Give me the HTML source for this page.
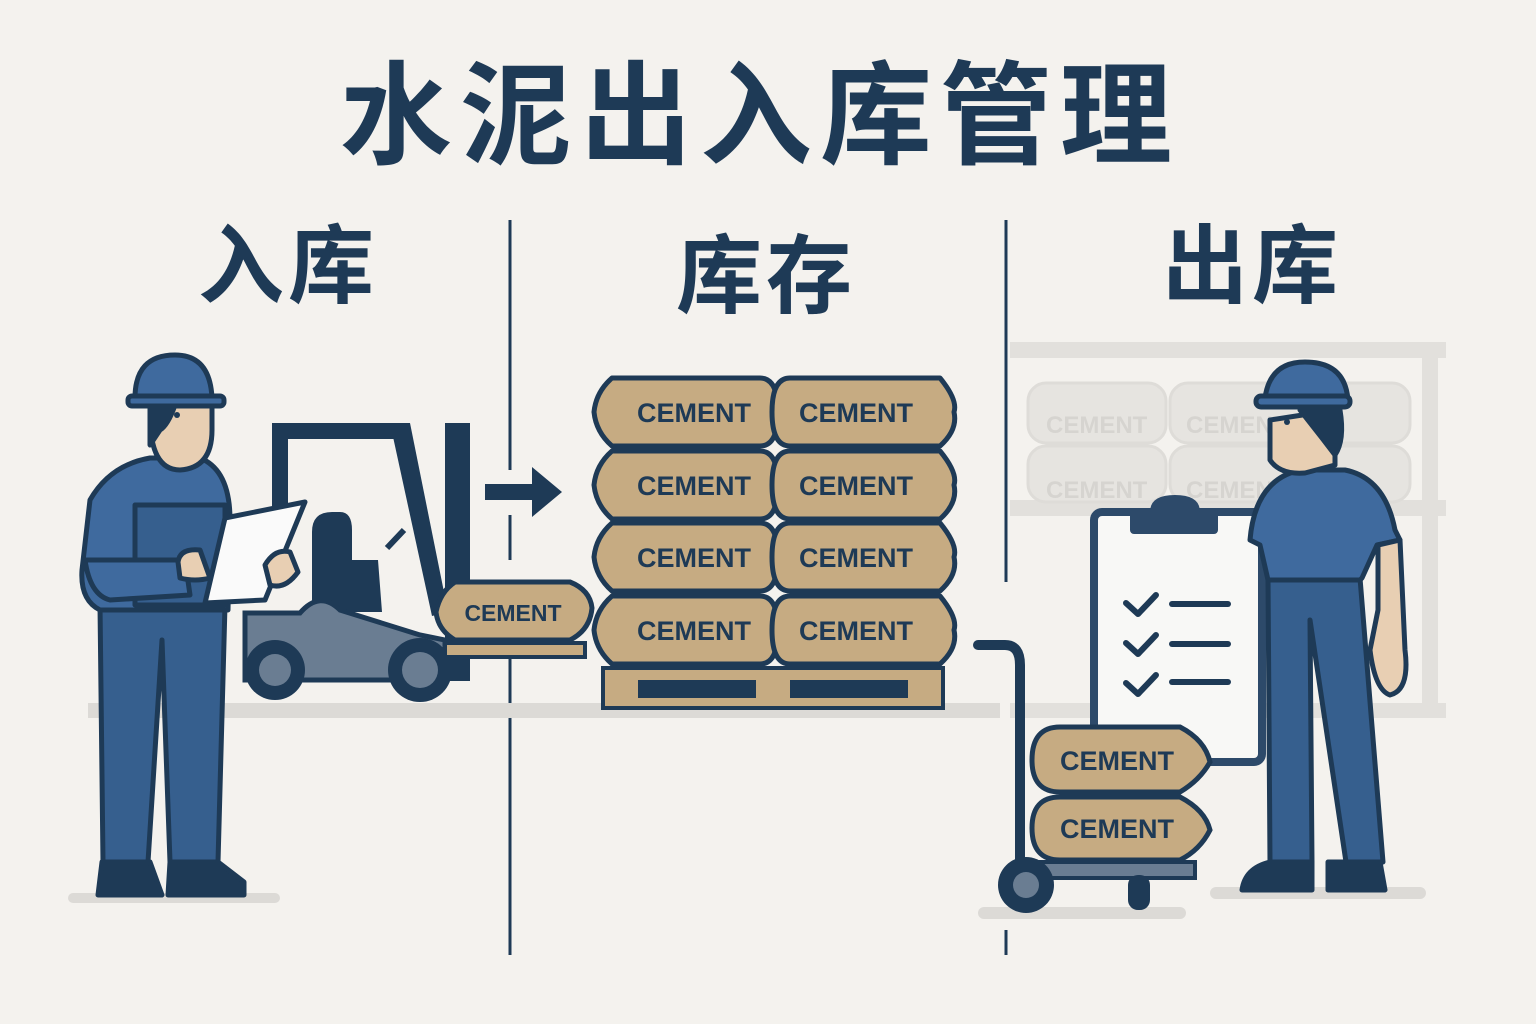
<!DOCTYPE html>
<html><head><meta charset="utf-8"><style>
html,body{margin:0;padding:0;background:#f4f2ee;}
svg{display:block}
text{font-family:"Liberation Sans","Noto Sans CJK SC",sans-serif;}
</style></head><body>
<svg width="1536" height="1024" viewBox="0 0 1536 1024" xmlns="http://www.w3.org/2000/svg">
<rect width="1536" height="1024" fill="#f4f2ee"/>
<text x="760" y="155" text-anchor="middle" font-size="112" font-weight="bold" fill="#1e3a56" font-family="Noto Sans CJK SC, sans-serif" letter-spacing="8">水泥出入库管理</text>
<text x="288" y="296" text-anchor="middle" font-size="86" font-weight="bold" fill="#1e3a56" font-family="Noto Sans CJK SC, sans-serif" letter-spacing="4">入库</text>
<text x="766" y="306" text-anchor="middle" font-size="86" font-weight="bold" fill="#1e3a56" font-family="Noto Sans CJK SC, sans-serif" letter-spacing="4">库存</text>
<text x="1252" y="296" text-anchor="middle" font-size="86" font-weight="bold" fill="#1e3a56" font-family="Noto Sans CJK SC, sans-serif" letter-spacing="4">出库</text>

<!-- dividers -->
<g stroke="#1e3a56" stroke-width="3">
<line x1="510" y1="220" x2="510" y2="470"/><line x1="510" y1="515" x2="510" y2="560"/><line x1="510" y1="650" x2="510" y2="955"/>
<line x1="1006" y1="220" x2="1006" y2="582"/><line x1="1006" y1="930" x2="1006" y2="955"/>
</g>

<!-- floors -->
<rect x="88" y="703" width="912" height="15" fill="#dcdad6"/>
<rect x="68" y="893" width="212" height="10" rx="5" fill="#dcdad6"/>
<rect x="978" y="907" width="208" height="12" rx="6" fill="#dcdad6"/>
<rect x="1210" y="887" width="216" height="12" rx="6" fill="#dcdad6"/>

<!-- shelf right -->
<g fill="#e2e0dc">
<rect x="1010" y="342" width="436" height="16"/>
<rect x="1010" y="500" width="436" height="16"/>
<rect x="1010" y="703" width="436" height="15"/>
<rect x="1422" y="350" width="16" height="360"/>
</g>
<g fill="#e6e4e0" stroke="#dedcd8" stroke-width="3">
<rect x="1028" y="383" width="138" height="60" rx="18"/><rect x="1170" y="383" width="240" height="60" rx="18"/>
<rect x="1028" y="446" width="138" height="56" rx="18"/><rect x="1170" y="446" width="240" height="56" rx="18"/>
</g>
<g font-size="24" font-weight="bold" fill="#d6d4d0"><text x="1046" y="433">CEMENT</text><text x="1046" y="498">CEMENT</text><text x="1186" y="433">CEMENT</text><text x="1186" y="498">CEMENT</text></g>

<!-- pallet -->
<rect x="603" y="668" width="340" height="40" fill="#c6ab82" stroke="#1e3a56" stroke-width="4"/>
<rect x="638" y="680" width="118" height="18" fill="#1e3a56"/><rect x="790" y="680" width="118" height="18" fill="#1e3a56"/>

<!-- bags -->
<g stroke="#1e3a56" stroke-width="5" fill="#c6ab82" stroke-linejoin="round">
<path d="M612 378 H760 Q778 378 778 412 Q778 446 760 446 H612 Q596 432 594 412 Q596 392 612 378Z"/>
<path d="M790 378 H940 Q958 400 954 412 Q958 430 940 446 H790 Q772 446 772 412 Q772 378 790 378Z"/>
<path d="M612 451 H760 Q778 451 778 485 Q778 519 760 519 H612 Q596 505 594 485 Q596 465 612 451Z"/>
<path d="M790 451 H940 Q958 473 954 485 Q958 503 940 519 H790 Q772 519 772 485 Q772 451 790 451Z"/>
<path d="M612 523 H760 Q778 523 778 557 Q778 591 760 591 H612 Q596 577 594 557 Q596 537 612 523Z"/>
<path d="M790 523 H940 Q958 545 954 557 Q958 575 940 591 H790 Q772 591 772 557 Q772 523 790 523Z"/>
<path d="M612 596 H760 Q778 596 778 630 Q778 664 760 664 H612 Q596 650 594 630 Q596 610 612 596Z"/>
<path d="M790 596 H940 Q958 618 954 630 Q958 648 940 664 H790 Q772 664 772 630 Q772 596 790 596Z"/>
</g>
<g font-size="27" font-weight="bold" fill="#1e3a56" text-anchor="middle">
<text x="694" y="422">CEMENT</text><text x="856" y="422">CEMENT</text>
<text x="694" y="495">CEMENT</text><text x="856" y="495">CEMENT</text>
<text x="694" y="567">CEMENT</text><text x="856" y="567">CEMENT</text>
<text x="694" y="640">CEMENT</text><text x="856" y="640">CEMENT</text>
</g>

<!-- arrow -->
<rect x="485" y="484" width="48" height="16" fill="#1e3a56"/>
<path d="M532 467 L562 492 L532 517Z" fill="#1e3a56"/>

<!-- forklift -->
<g fill="#1e3a56">
<rect x="272" y="423" width="132" height="16"/>
<path d="M390 423 L410 423 L448 612 L432 616Z"/>
<rect x="272" y="423" width="16" height="100"/>
<rect x="445" y="423" width="25" height="258"/>
<path d="M312 532 Q312 512 332 512 L340 512 Q352 512 352 530 L352 560 L378 560 L382 612 L312 612Z"/>
<line x1="387" y1="548" x2="404" y2="530" stroke="#1e3a56" stroke-width="6"/>
</g>
<path d="M245 613 L300 613 Q320 590 340 610 L420 635 L445 640 L445 680 L245 680Z" fill="#6a7d92" stroke="#1e3a56" stroke-width="5"/>
<circle cx="275" cy="670" r="30" fill="#1e3a56"/><circle cx="275" cy="670" r="16" fill="#6a7d92"/>
<circle cx="420" cy="670" r="32" fill="#1e3a56"/><circle cx="420" cy="670" r="18" fill="#6a7d92"/>
<rect x="445" y="643" width="140" height="14" fill="#c6ab82" stroke="#1e3a56" stroke-width="4"/>
<path d="M455 582 H570 Q590 590 592 608 Q590 630 570 640 H455 Q438 630 436 612 Q440 592 455 582Z" fill="#c6ab82" stroke="#1e3a56" stroke-width="5"/>
<text x="513" y="621" text-anchor="middle" font-size="23" font-weight="bold" fill="#1e3a56">CEMENT</text>

<!-- left worker -->
<g stroke="#1e3a56" stroke-width="5" stroke-linejoin="round">
<path d="M100 605 L225 605 L218 862 L170 862 L162 640 L148 862 L103 862Z" fill="#365f8e"/>
<path d="M98 895 L102 862 L150 862 L162 895Z M168 895 L170 862 L218 862 L244 882 L244 895Z" fill="#1e3a56"/>
<path d="M90 500 Q110 465 150 458 L200 458 Q230 470 230 520 L228 610 L100 610 Q80 600 82 570Z" fill="#3f6a9e"/>
<path d="M135 505 L225 505 L225 605 L135 605Z" fill="#365f8e"/>
<path d="M85 560 Q90 595 110 600 L190 595 L185 560Z" fill="#3f6a9e"/>
<path d="M150 415 Q150 470 180 470 Q212 468 212 430 L212 405 L150 405Z" fill="#e8cfb3"/>
<path d="M150 445 L150 410 L175 405 Q168 425 160 430 Z" fill="#1e3a56"/>
<path d="M135 398 Q135 355 175 355 Q210 355 212 398Z" fill="#3f6a9e"/>
<rect x="128" y="396" width="96" height="10" rx="4" fill="#3f6a9e"/>
<path d="M225 518 L305 502 L265 600 L205 603Z" fill="#fafafa"/>
<path d="M178 562 Q180 548 200 550 L210 578 Q195 582 180 578Z" fill="#e8cfb3"/>
<path d="M265 565 Q275 548 290 552 L298 572 Q285 590 270 585Z" fill="#e8cfb3"/>
</g>
<circle cx="177" cy="415" r="3" fill="#1e3a56"/>

<!-- hand truck -->
<g stroke="#1e3a56" fill="none" stroke-width="10" stroke-linecap="round">
<path d="M978 645 L1005 645 Q1020 645 1020 665 L1020 875"/>
</g>
<rect x="1020" y="862" width="175" height="16" fill="#6a7d92" stroke="#1e3a56" stroke-width="4"/>
<rect x="1128" y="875" width="22" height="35" rx="10" fill="#1e3a56"/>
<circle cx="1026" cy="885" r="28" fill="#1e3a56"/><circle cx="1026" cy="885" r="13" fill="#6a7d92"/>

<!-- clipboard -->
<rect x="1094" y="512" width="168" height="250" rx="8" fill="#f8f8f6" stroke="#2d4a6a" stroke-width="8"/>
<rect x="1130" y="510" width="88" height="24" rx="4" fill="#2d4a6a"/>
<path d="M1150 512 Q1150 495 1175 495 Q1200 495 1200 512Z" fill="#2d4a6a"/>
<g stroke="#1e3a56" stroke-width="6" fill="none" stroke-linecap="round" stroke-linejoin="round">
<path d="M1126 603 L1138 614 L1156 595"/><line x1="1172" y1="604" x2="1228" y2="604"/>
<path d="M1126 643 L1138 654 L1156 635"/><line x1="1172" y1="644" x2="1228" y2="644"/>
<path d="M1126 683 L1138 694 L1156 675"/><line x1="1172" y1="682" x2="1228" y2="682"/>
</g>

<!-- cart bags -->
<g stroke="#1e3a56" stroke-width="5" fill="#c6ab82">
<path d="M1060 727 H1180 Q1205 740 1210 762 Q1200 780 1180 792 H1060 Q1032 792 1032 760 Q1032 727 1060 727Z"/>
<path d="M1060 797 H1180 Q1205 810 1210 830 Q1200 850 1180 860 H1060 Q1032 860 1032 828 Q1032 797 1060 797Z"/>
</g>
<g font-size="27" font-weight="bold" fill="#1e3a56" text-anchor="middle"><text x="1117" y="770">CEMENT</text><text x="1117" y="838">CEMENT</text></g>

<!-- right worker -->
<g stroke="#1e3a56" stroke-width="5" stroke-linejoin="round">
<path d="M1268 578 L1360 578 L1383 862 L1346 862 L1310 620 L1312 862 L1270 862Z" fill="#365f8e"/>
<path d="M1242 890 Q1245 868 1270 862 L1312 862 L1312 890Z M1328 890 L1328 862 L1380 862 L1385 890Z" fill="#1e3a56"/>
<path d="M1250 540 Q1255 480 1300 470 L1345 470 Q1385 478 1395 530 L1400 540 L1377 545 L1362 578 L1360 580 L1268 580 L1260 545Z" fill="#3f6a9e"/>
<path d="M1378 545 L1400 540 L1405 650 Q1410 690 1390 695 Q1375 690 1370 650 L1378 610Z" fill="#e8cfb3"/>
<path d="M1270 420 L1270 460 Q1280 475 1305 473 L1335 465 L1335 410Z" fill="#e8cfb3"/>
<path d="M1300 410 L1340 410 Q1345 440 1335 455 L1322 438Z" fill="#1e3a56"/>
<path d="M1265 398 Q1270 362 1305 362 Q1345 362 1348 400Z" fill="#3f6a9e"/>
<rect x="1256" y="396" width="94" height="11" rx="5" fill="#3f6a9e"/>
</g>
<circle cx="1287" cy="422" r="3" fill="#1e3a56"/>
</svg>
</body></html>
